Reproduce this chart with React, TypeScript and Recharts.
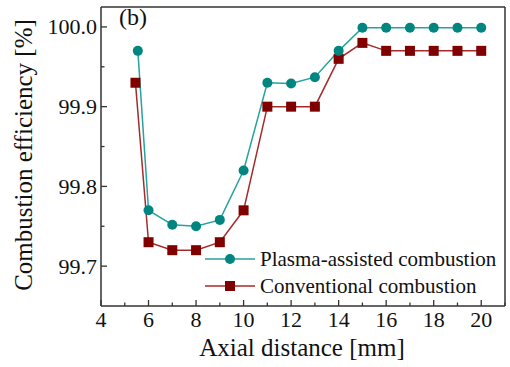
import { LineChart, Line, XAxis, YAxis } from 'recharts'

const plasmaX = [5.55, 6, 7, 8, 9, 10, 11, 12, 13, 14, 15, 16, 17, 18, 19, 20]
const plasmaY = [99.97, 99.77, 99.752, 99.75, 99.758, 99.82, 99.93, 99.929, 99.937, 99.97, 99.999, 99.999, 99.999, 99.999, 99.999, 99.999]
const convX = [5.45, 6, 7, 8, 9, 10, 11, 12, 13, 14, 15, 16, 17, 18, 19, 20]
const convY = [99.93, 99.73, 99.72, 99.72, 99.73, 99.77, 99.9, 99.9, 99.9, 99.96, 99.98, 99.97, 99.97, 99.97, 99.97, 99.97]

const xTicks = [4, 5, 6, 7, 8, 9, 10, 11, 12, 13, 14, 15, 16, 17, 18, 19, 20, 21]
const yTicks = [99.7, 99.75, 99.8, 99.85, 99.9, 99.95, 100.0]

const plasma = plasmaX.map((x, i) => ({ x, y: plasmaY[i] }))
const conv = convX.map((x, i) => ({ x, y: convY[i] }))

const TEAL = '#008580'
const TEAL_LINE = '#26a39e'
const RED = '#800000'
const RED_LINE = '#a52a2a'
const AXIS = '#333'
const FONT = '"Times New Roman", Times, "DejaVu Serif", serif'

const XTick = (props: any) => {
  const { x, y, payload } = props
  const major = payload.value % 2 === 0
  return (
    <g>
      <line x1={x} x2={x} y1={y} y2={y - (major ? 6 : 3.5)} stroke={AXIS} strokeWidth={1.3} />
      {major && (
        <text x={x} y={y + 21} textAnchor="middle" style={{ fontFamily: FONT, fontSize: 22 }} fill="#111">
          {payload.value}
        </text>
      )}
    </g>
  )
}

const YTick = (props: any) => {
  const { x, y, payload } = props
  const major = Math.round(payload.value * 100) % 10 === 0
  return (
    <g>
      <line x1={x} x2={x + (major ? 6 : 3.5)} y1={y} y2={y} stroke={AXIS} strokeWidth={1.3} />
      {major && (
        <text x={x - 4} y={y + 7.5} textAnchor="end" style={{ fontFamily: FONT, fontSize: 22 }} fill="#111">
          {payload.value.toFixed(1)}
        </text>
      )}
    </g>
  )
}

const Square = (props: any) => {
  const { cx, cy } = props
  return <rect x={cx - 5} y={cy - 5} width={10} height={10} fill={RED} />
}

const LegendBox = () => (
  <svg width={305} height={60} style={{ overflow: 'visible', position: 'absolute', left: 205, top: 246 }}>
    <line x1={0} x2={50} y1={13} y2={13} stroke={TEAL_LINE} strokeWidth={1.5} />
    <circle cx={25} cy={13} r={5} fill={TEAL} />
    <text x={55} y={20} style={{ fontFamily: FONT, fontSize: 21 }} fill="#111">Plasma-assisted combustion</text>
    <line x1={0} x2={50} y1={40} y2={40} stroke={RED_LINE} strokeWidth={1.5} />
    <rect x={20} y={35} width={10} height={10} fill={RED} />
    <text x={55} y={47} style={{ fontFamily: FONT, fontSize: 21 }} fill="#111">Conventional combustion</text>
  </svg>
)

export default function App() {
  return (
    <div style={{ position: 'absolute', left: 0, top: 0, width: 510, height: 367, background: '#fff', fontFamily: FONT }}>
      <LineChart width={510} height={367} margin={{ top: 6, right: 4, left: 100, bottom: 60 }}>
        <XAxis
          xAxisId="b"
          type="number"
          dataKey="x"
          domain={[4, 21]}
          ticks={xTicks}
          interval={0}
          height={1}
          tickSize={0}
          tickMargin={0}
          tick={<XTick />}
          tickLine={false}
          axisLine={{ stroke: AXIS, strokeWidth: 1.5 }}
          allowDataOverflow
        />
        <XAxis xAxisId="t" orientation="top" type="number" domain={[4, 21]} height={1} tick={false} tickLine={false} axisLine={{ stroke: AXIS, strokeWidth: 1.5 }} />
        <YAxis
          yAxisId="l"
          type="number"
          domain={[99.65, 100.025]}
          ticks={yTicks}
          interval={0}
          width={1}
          tickSize={0}
          tickMargin={0}
          tick={<YTick />}
          tickLine={false}
          axisLine={{ stroke: AXIS, strokeWidth: 1.5 }}
          allowDataOverflow
        />
        <YAxis yAxisId="r" orientation="right" domain={[99.65, 100.025]} width={1} tick={false} tickLine={false} axisLine={{ stroke: AXIS, strokeWidth: 1.5 }} />
        <Line
          xAxisId="b"
          yAxisId="l"
          data={conv}
          dataKey="y"
          name="Conventional combustion"
          stroke={RED_LINE}
          strokeWidth={1.5}
          dot={<Square />}
          isAnimationActive={false}
        />
        <Line
          xAxisId="b"
          yAxisId="l"
          data={plasma}
          dataKey="y"
          name="Plasma-assisted combustion"
          stroke={TEAL_LINE}
          strokeWidth={1.5}
          dot={{ r: 5, fill: TEAL, stroke: 'none' }}
          isAnimationActive={false}
        />
      </LineChart>
      <LegendBox />
      <div style={{ position: 'absolute', left: 119, top: 4, fontSize: 24, color: '#111' }}>(b)</div>
      <div style={{ position: 'absolute', left: 302, top: 334, transform: 'translateX(-50%)', fontSize: 25, whiteSpace: 'nowrap', color: '#111' }}>
        Axial distance [mm]
      </div>
      <div
        style={{
          position: 'absolute',
          left: 24,
          top: 155,
          transform: 'translate(-50%, -50%) rotate(-90deg)',
          fontSize: 25,
          whiteSpace: 'nowrap',
          color: '#111',
        }}
      >
        Combustion efficiency [%]
      </div>
    </div>
  )
}
